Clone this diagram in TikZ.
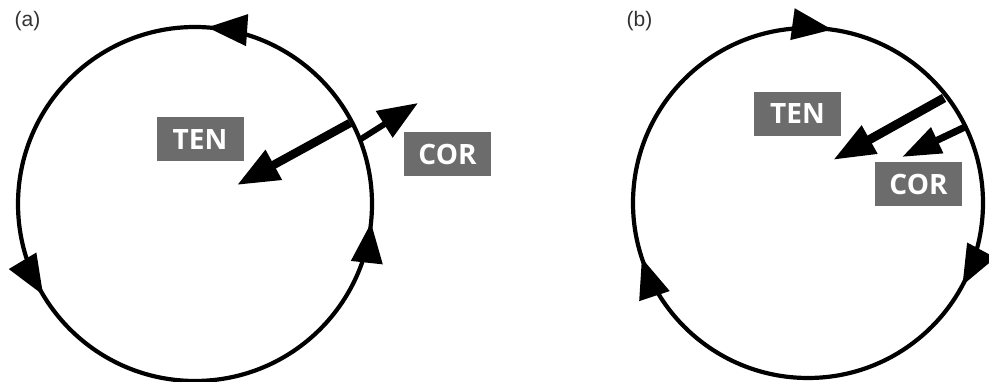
\documentclass[tikz,border=0pt]{standalone}
\usepackage{fontspec}
\setmainfont{Liberation Sans}
\newfontfamily\boxfont{Open Sans}
\usetikzlibrary{arrows.meta,decorations.markings}
\definecolor{boxgray}{RGB}{108,108,108}
\definecolor{labelgray}{RGB}{50,50,50}
\tikzset{ringtip/.tip={Triangle[length=40pt,width=31pt]}}
\begin{document}
\begin{tikzpicture}[x=1pt,y=1pt,
  ring/.style={line width=4.2pt},
  labelbox/.style={fill=boxgray, text=white, font=\boxfont\bfseries\fontsize{28}{28}\selectfont,
    minimum width=87pt, minimum height=44pt, inner sep=0pt},
  panellabel/.style={font=\fontsize{21}{21}\selectfont, text=labelgray, inner sep=0pt},
]
\useasboundingbox (0,0) rectangle (989,382);
% ---------- panel (a) ----------
\node[panellabel] (la) at (27.5,361) {(a)};
\coordinate (Ca) at (195,178);
\draw[ring, postaction=decorate, decoration={markings,
  mark=at position 0.239 with {\arrow{ringtip}},
  mark=at position 0.586 with {\arrow{ringtip}},
  mark=at position 0.983 with {\arrow{ringtip}}}]
  ([shift={(0:177)}]Ca) arc[start angle=0, end angle=360, radius=177];
\node[labelbox] (tena) at (200,242.5) {TEN};
\node[labelbox] (cora) at (447.5,227.5) {COR};
\coordinate (ain) at (350,259);
\coordinate (atip) at (237,197);
\coordinate (aout) at (361,243);
\coordinate (aouttip) at (418,279);
\draw[line width=8.5pt, -{Triangle[length=42pt,width=32pt]}] (ain) -- (atip);
\draw[line width=6pt, -{Triangle[length=40pt,width=30pt]}] (aout) -- (aouttip);
% ---------- panel (b) ----------
\node[panellabel] (lb) at (639.5,361) {(b)};
\coordinate (Cb) at (808,179);
\draw[ring, postaction=decorate, decoration={markings,
  mark=at position 0.272 with {\arrow{ringtip}},
  mark=at position 0.578 with {\arrow{ringtip}},
  mark=at position 0.949 with {\arrow{ringtip}}}]
  ([shift={(180:175)}]Cb) arc[start angle=180, end angle=-180, radius=175];
\node[labelbox] (tenb) at (797.5,268) {TEN};
\node[labelbox] (corb) at (918.5,198) {COR};
\coordinate (b1s) at (944,284);
\coordinate (b1t) at (833,222);
\coordinate (b2s) at (965,255);
\coordinate (b2t) at (902,225);
\draw[line width=9pt, -{Triangle[length=42pt,width=30pt]}] (b1s) -- (b1t);
\draw[line width=7pt, -{Triangle[length=39pt,width=27pt]}] (b2s) -- (b2t);
\end{tikzpicture}
\end{document}
